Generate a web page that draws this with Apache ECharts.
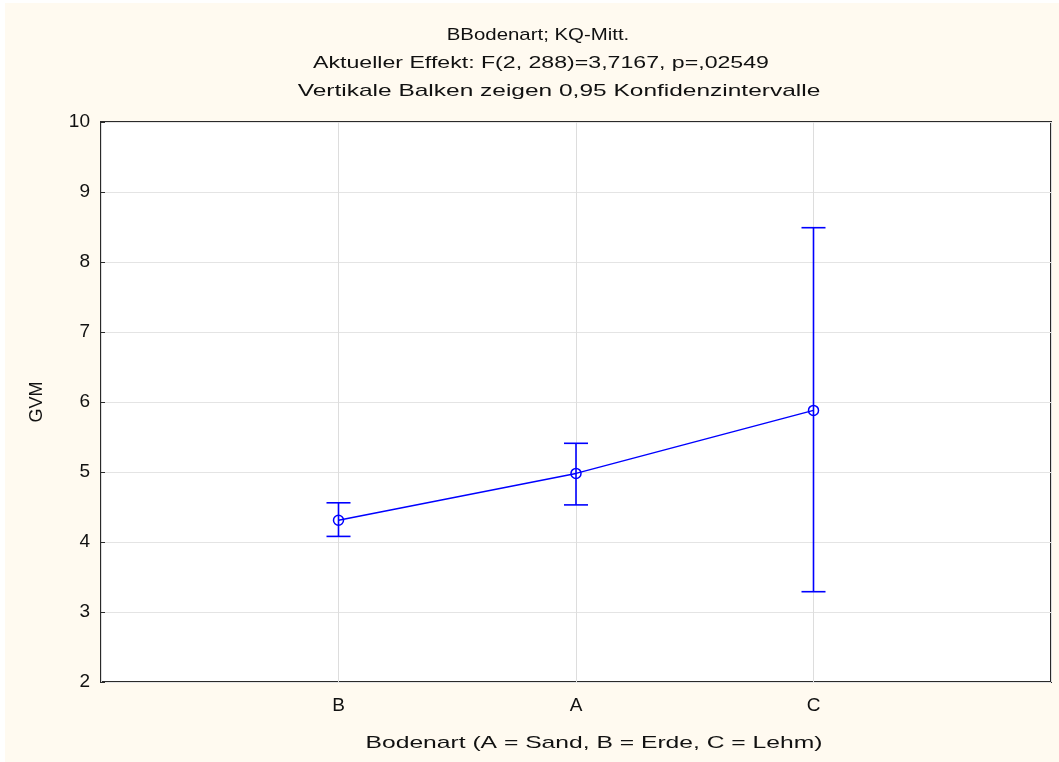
<!DOCTYPE html>
<html>
<head>
<meta charset="utf-8" />
<title>GVM nach Bodenart</title>
<script src="https://cdn.jsdelivr.net/npm/echarts@6/dist/echarts.min.js"></script>
<style>
  html, body { margin: 0; padding: 0; background: #ffffff; }
  #chart { position: absolute; left: 5px; top: 3px; width: 1054px; height: 759px; background: #fffaf0; }
</style>
</head>
<body>
<div id="chart"></div>
<script>
// Daten
var categories = ['B', 'A', 'C'];
var means = [4.31, 4.98, 5.88];
var lower = [4.08, 4.53, 3.29];
var upper = [4.56, 5.41, 8.49];
var yTicks = [2, 3, 4, 5, 6, 7, 8, 9, 10];

var titleLines = [
  'BBodenart; KQ-Mitt.',
  'Aktueller Effekt: F(2, 288)=3,7167, p=,02549',
  'Vertikale Balken zeigen 0,95 Konfidenzintervalle'
];
var xName = 'Bodenart (A = Sand, B = Erde, C = Lehm)';
var yName = 'GVM';

var FONT = 'Liberation Sans, Arial, sans-serif';
var BLUE = '#0000ff';
var TXT = '#111111';

var lineData = [];
var errData = [];
for (var i = 0; i < categories.length; i++) {
  lineData.push([i + 1, means[i]]);
  errData.push([i + 1, lower[i], upper[i]]);
}

// Text im Original ist breiter gesetzt -> horizontal strecken
function label(text, x, y, sx) {
  return {
    type: 'text', x: x, y: y, scaleX: sx, silent: true,
    style: { text: text, font: '17px ' + FONT, fill: TXT, align: 'center', verticalAlign: 'middle' }
  };
}

var chart = echarts.init(document.getElementById('chart'));

chart.setOption({
  backgroundColor: '#fffaf0',
  animation: false,
  graphic: [
    label(titleLines[0], 533, 32, 1.2),
    label(titleLines[1], 536, 60, 1.36),
    label(titleLines[2], 554, 88, 1.44),
    label(xName, 589, 740, 1.45)
  ],
  grid: {
    left: 96, right: 8, top: 119, bottom: 80,
    show: true, backgroundColor: '#ffffff', borderColor: '#2a2a2a', borderWidth: 2
  },
  xAxis: {
    type: 'value', min: 0, max: 4, interval: 1,
    axisLine: { show: false },
    axisTick: { show: false },
    axisLabel: {
      margin: 14, fontFamily: FONT, fontSize: 19, color: TXT,
      formatter: function (v) { return categories[v - 1] || ''; }
    },
    splitLine: { show: true, lineStyle: { color: '#dddddd', width: 1 } }
  },
  yAxis: {
    type: 'value', min: yTicks[0], max: yTicks[yTicks.length - 1], interval: 1,
    name: yName, nameLocation: 'middle', nameGap: 55, nameRotate: 90,
    nameTextStyle: { fontFamily: FONT, fontSize: 18, color: TXT },
    axisLine: { show: false },
    axisTick: { show: true, inside: true, length: 4, lineStyle: { color: '#2a2a2a' } },
    axisLabel: { margin: 11, fontFamily: FONT, fontSize: 19, color: TXT },
    splitLine: { show: true, lineStyle: { color: '#e4e4e4', width: 1 } }
  },
  series: [
    {
      type: 'custom',
      data: errData,
      z: 3,
      renderItem: function (params, api) {
        var x = api.value(0);
        var lo = api.coord([x, api.value(1)]);
        var hi = api.coord([x, api.value(2)]);
        var hw = 12;
        var st = { stroke: BLUE, lineWidth: 1.6 };
        return {
          type: 'group',
          children: [
            { type: 'line', shape: { x1: hi[0], y1: hi[1], x2: lo[0], y2: lo[1] }, style: st },
            { type: 'line', shape: { x1: hi[0] - hw, y1: hi[1], x2: hi[0] + hw, y2: hi[1] }, style: st },
            { type: 'line', shape: { x1: lo[0] - hw, y1: lo[1], x2: lo[0] + hw, y2: lo[1] }, style: st }
          ]
        };
      }
    },
    {
      type: 'line',
      data: lineData,
      z: 4,
      symbol: 'circle',
      symbolSize: 10,
      lineStyle: { color: BLUE, width: 1.5 },
      itemStyle: { color: 'rgba(0,0,0,0)', borderColor: BLUE, borderWidth: 1.5 }
    }
  ]
});
</script>
</body>
</html>
